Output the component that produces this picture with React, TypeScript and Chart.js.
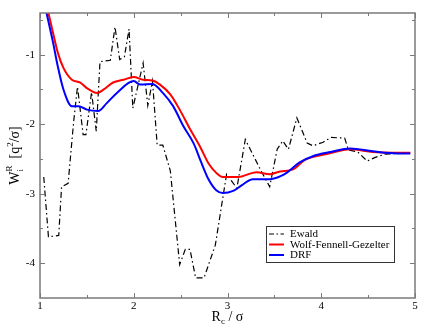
import React, { useEffect, useRef } from "react";
import { Chart, registerables } from "chart.js";

Chart.register(...registerables);

// ---- Data ----
const ewaldX = [1.04, 1.09, 1.2, 1.23, 1.3, 1.36, 1.4, 1.46, 1.49, 1.55, 1.6, 1.64, 1.75, 1.8, 1.85, 1.9, 1.95, 1.99, 2.1, 2.15, 2.2, 2.25, 2.31, 2.39, 2.49, 2.55, 2.6, 2.66, 2.75, 2.87, 2.99, 3.1, 3.19, 3.35, 3.45, 3.53, 3.59, 3.65, 3.74, 3.85, 3.91, 4.02, 4.1, 4.25, 4.29, 4.39, 4.49, 4.57, 4.68, 4.81, 4.95];
const ewaldY = [-2.76, -3.62, -3.6, -2.9, -2.85, -1.95, -1.46, -2.15, -2.15, -1.54, -2.1, -1.1, -1.08, -0.6, -1.07, -1.03, -0.63, -1.77, -1.12, -1.73, -1.38, -2.3, -2.3, -2.67, -4.02, -3.8, -3.8, -4.21, -4.21, -3.74, -2.72, -2.92, -2.22, -2.65, -2.9, -2.36, -2.24, -2.36, -1.91, -2.27, -2.31, -2.26, -2.19, -2.2, -2.37, -2.4, -2.53, -2.48, -2.43, -2.42, -2.41];

const wfgX = [1.04, 1.09, 1.14, 1.19, 1.25, 1.34, 1.43, 1.5, 1.61, 1.68, 1.78, 1.89, 2.0, 2.1, 2.2, 2.28, 2.39, 2.49, 2.6, 2.71, 2.8, 2.88, 2.95, 3.11, 3.31, 3.45, 3.56, 3.7, 3.83, 4.06, 4.31, 4.55, 4.77, 4.95];
const wfgY = [-0.1, -0.4, -0.69, -0.97, -1.19, -1.36, -1.4, -1.48, -1.55, -1.5, -1.4, -1.36, -1.32, -1.36, -1.37, -1.43, -1.57, -1.79, -2.07, -2.33, -2.57, -2.7, -2.76, -2.76, -2.69, -2.72, -2.68, -2.65, -2.51, -2.43, -2.36, -2.4, -2.41, -2.41];

const drfX = [1.03, 1.07, 1.14, 1.19, 1.25, 1.34, 1.41, 1.5, 1.62, 1.71, 1.82, 2.0, 2.07, 2.2, 2.31, 2.42, 2.53, 2.64, 2.72, 2.8, 2.88, 2.95, 3.06, 3.15, 3.27, 3.45, 3.56, 3.63, 3.77, 3.91, 4.1, 4.31, 4.55, 4.81, 4.95];
const drfY = [-0.15, -0.4, -0.83, -1.17, -1.5, -1.74, -1.74, -1.79, -1.81, -1.7, -1.55, -1.38, -1.43, -1.42, -1.55, -1.74, -2.03, -2.28, -2.55, -2.8, -2.95, -2.99, -2.96, -2.88, -2.79, -2.79, -2.75, -2.7, -2.55, -2.46, -2.4, -2.35, -2.39, -2.42, -2.42];

const seriesLabels = ["Ewald", "Wolf-Fennell-Gezelter", "DRF"];
const seriesColors = ["#000000", "#ff0000", "#0000ff"];

const xTicks = [1, 2, 3, 4, 5];
const xMinorTicks = [1.5, 2.5, 3.5, 4.5];
const yTicks = [-1, -2, -3, -4];
const yMinorTicks = [-0.5, -1.5, -2.5, -3.5];

const SERIF = '"Liberation Serif", "DejaVu Serif", serif';

function pts(xs: number[], ys: number[]) {
  return xs.map((x, i) => ({ x, y: ys[i] }));
}

const framePlugin = {
  id: "xmgraceFrame",
  afterDraw(chart: any) {
    const { ctx, chartArea: a, scales } = chart;
    const xs = scales.x;
    const ys = scales.y;
    ctx.save();
    // frame
    ctx.strokeStyle = "#7a7a7a";
    ctx.lineWidth = 1.5;
    ctx.strokeRect(a.left, a.top, a.right - a.left, a.bottom - a.top);
    // ticks (inward, on all four sides)
    ctx.lineWidth = 1;
    const vt = (v: number, len: number) => {
      const p = Math.round(xs.getPixelForValue(v)) + 0.5;
      ctx.beginPath();
      ctx.moveTo(p, a.bottom);
      ctx.lineTo(p, a.bottom - len);
      ctx.moveTo(p, a.top);
      ctx.lineTo(p, a.top + len);
      ctx.stroke();
    };
    const ht = (v: number, len: number) => {
      const p = Math.round(ys.getPixelForValue(v)) + 0.5;
      ctx.beginPath();
      ctx.moveTo(a.left, p);
      ctx.lineTo(a.left + len, p);
      ctx.moveTo(a.right, p);
      ctx.lineTo(a.right - len, p);
      ctx.stroke();
    };
    xTicks.forEach((v) => vt(v, 5));
    xMinorTicks.forEach((v) => vt(v, 3));
    yTicks.forEach((v) => ht(v, 5));
    yMinorTicks.forEach((v) => ht(v, 3));

    // tick labels
    ctx.fillStyle = "#000";
    ctx.font = `11px ${SERIF}`;
    ctx.textAlign = "center";
    ctx.textBaseline = "top";
    xTicks.forEach((v) => {
      ctx.fillText(String(v), xs.getPixelForValue(v), a.bottom + 3);
    });
    ctx.textAlign = "right";
    ctx.textBaseline = "middle";
    yTicks.forEach((v) => {
      ctx.fillText(String(v), a.left - 5, ys.getPixelForValue(v));
    });

    // x title: R_c / σ
    const big = `14px ${SERIF}`;
    const small = `9px ${SERIF}`;
    ctx.textAlign = "left";
    ctx.textBaseline = "alphabetic";
    ctx.font = big;
    const wR = ctx.measureText("R").width;
    const wRest = ctx.measureText(" / σ").width;
    ctx.font = small;
    const wc = ctx.measureText("c").width;
    const totalX = wR + wc + wRest;
    let cx = (a.left + a.right) / 2 - totalX / 2;
    const by = a.bottom + 23;
    ctx.font = big;
    ctx.fillText("R", cx, by);
    cx += wR;
    ctx.font = small;
    ctx.fillText("c", cx, by + 3);
    cx += wc;
    ctx.font = big;
    ctx.fillText(" / σ", cx, by);

    // y title: W_i^R  [q²/σ]
    ctx.save();
    ctx.translate(a.left - 21, (a.top + a.bottom) / 2);
    ctx.rotate(-Math.PI / 2);
    ctx.font = big;
    const wW = ctx.measureText("W").width;
    const wBr = ctx.measureText("  [q").width;
    const wEnd = ctx.measureText("/σ]").width;
    ctx.font = small;
    const wSup = Math.max(ctx.measureText("R").width, ctx.measureText("i").width);
    const w2 = ctx.measureText("2").width;
    const totalY = wW + wSup + wBr + w2 + wEnd;
    let yx = -totalY / 2;
    ctx.font = big;
    ctx.fillText("W", yx, 0);
    yx += wW;
    ctx.font = small;
    ctx.fillText("R", yx, -7);
    ctx.fillText("i", yx, 4);
    yx += wSup;
    ctx.font = big;
    ctx.fillText("  [q", yx, 0);
    yx += wBr;
    ctx.font = small;
    ctx.fillText("2", yx, -6);
    yx += w2;
    ctx.font = big;
    ctx.fillText("/σ]", yx, 0);
    ctx.restore();

    // legend box
    const lx = 266, ly = 226, lw = 128, lh = 36;
    ctx.fillStyle = "#fff";
    ctx.fillRect(lx, ly, lw, lh);
    ctx.strokeStyle = "#333";
    ctx.lineWidth = 1;
    ctx.strokeRect(lx + 0.5, ly + 0.5, lw, lh);
    const rows = [ly + 8, ly + 18.5, ly + 29];
    ctx.font = `11px ${SERIF}`;
    ctx.textBaseline = "middle";
    ctx.textAlign = "left";
    seriesLabels.forEach((lab, i) => {
      const ry = rows[i];
      ctx.beginPath();
      ctx.strokeStyle = seriesColors[i];
      if (i === 0) {
        ctx.lineWidth = 1.2;
        ctx.setLineDash([5, 2.5, 1.5, 2.5]);
      } else {
        ctx.lineWidth = 2;
        ctx.setLineDash([]);
      }
      ctx.moveTo(lx + 3, ry);
      ctx.lineTo(lx + 18, ry);
      ctx.stroke();
      ctx.setLineDash([]);
      ctx.fillStyle = "#000";
      ctx.fillText(lab, lx + 24, ry + 0.5);
    });
    ctx.restore();
  },
};

export default function App() {
  const ref = useRef<HTMLCanvasElement | null>(null);
  useEffect(() => {
    if (!ref.current) return;
    const chart = new Chart(ref.current, {
      type: "line",
      data: {
        datasets: [
          {
            label: seriesLabels[0],
            data: pts(ewaldX, ewaldY),
            borderColor: seriesColors[0],
            borderWidth: 1.2,
            borderDash: [6, 3, 1.5, 3],
            pointRadius: 0,
            tension: 0,
            fill: false,
            order: 3,
          },
          {
            label: seriesLabels[1],
            data: pts(wfgX, wfgY),
            borderColor: seriesColors[1],
            borderWidth: 2,
            pointRadius: 0,
            cubicInterpolationMode: "monotone",
            fill: false,
            order: 2,
          },
          {
            label: seriesLabels[2],
            data: pts(drfX, drfY),
            borderColor: seriesColors[2],
            borderWidth: 2,
            pointRadius: 0,
            cubicInterpolationMode: "monotone",
            fill: false,
            order: 1,
          },
        ],
      },
      options: {
        animation: false,
        responsive: false,
        devicePixelRatio: 1,
        layout: { padding: { left: 40, right: 15, top: 13, bottom: 34 } },
        plugins: { legend: { display: false }, tooltip: { enabled: false } },
        scales: {
          x: { type: "linear", min: 1, max: 5, display: false },
          y: { type: "linear", min: -4.5, max: -0.4, display: false },
        },
      },
      plugins: [framePlugin],
    });
    return () => chart.destroy();
  }, []);
  return (
    <div style={{ position: "fixed", left: 0, top: 0, width: 430, height: 332, background: "#fff" }}>
      <canvas ref={ref} width={430} height={332} style={{ display: "block" }} />
    </div>
  );
}
